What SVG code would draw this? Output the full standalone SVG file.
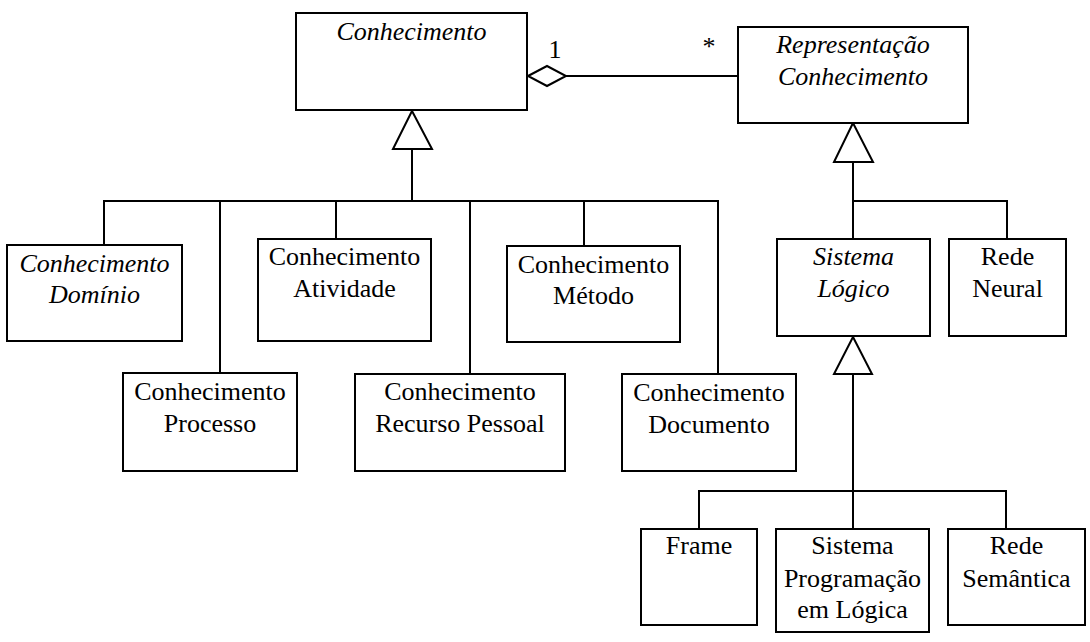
<svg xmlns="http://www.w3.org/2000/svg" width="1090" height="642" viewBox="0 0 1090 642">
<style>
.box{fill:#fff;stroke:#000;stroke-width:2}
.ln{fill:none;stroke:#000;stroke-width:2}
.tri{fill:#fff;stroke:#000;stroke-width:2;stroke-linejoin:miter}
text{font-family:Liberation Serif,Tinos,Times New Roman,Times,Nimbus Roman,DejaVu Serif,serif;font-size:26px;fill:#000;text-anchor:middle}
.it{font-style:italic}
</style>
<rect width="1090" height="642" fill="#fff"/>
<g id="connectors">
  <polyline class="ln" points="412,149 412,201"/>
  <polyline class="ln" points="104,245 104,201 718,201 718,374"/>
  <line class="ln" x1="220" y1="201" x2="220" y2="373"/>
  <line class="ln" x1="336" y1="201" x2="336" y2="239"/>
  <line class="ln" x1="470" y1="201" x2="470" y2="374"/>
  <line class="ln" x1="584" y1="201" x2="584" y2="246"/>
  <polygon class="tri" points="412,111 393,149 432,149"/>
  <polyline class="ln" points="853,162 853,239"/>
  <polyline class="ln" points="853,201 1007,201 1007,239"/>
  <polygon class="tri" points="853,123 834,162 873,162"/>
  <polyline class="ln" points="853,374 853,529"/>
  <polyline class="ln" points="699,529 699,491 1006,491 1006,529"/>
  <polygon class="tri" points="853,337 834,374 872,374"/>
  <line class="ln" x1="566" y1="76" x2="738" y2="76"/>
  <polygon class="tri" points="528,76 547,66 566,76 547,86"/>
  <text x="555" y="58">1</text>
  <text x="709" y="55">*</text>
</g>
<g id="conhecimento">
  <rect class="box" x="296" y="13" width="231" height="97"/>
  <text class="it" x="411.5" y="40">Conhecimento</text>
</g>
<g id="representacao">
  <rect class="box" x="738" y="27" width="230" height="96"/>
  <text class="it" x="853" y="53">Representação</text>
  <text class="it" x="853" y="85">Conhecimento</text>
</g>
<g id="dominio">
  <rect class="box" x="7" y="245" width="175" height="96"/>
  <text class="it" x="94.5" y="272">Conhecimento</text>
  <text class="it" x="94.5" y="303">Domínio</text>
</g>
<g id="atividade">
  <rect class="box" x="258" y="239" width="173" height="102"/>
  <text x="344.5" y="265">Conhecimento</text>
  <text x="344.5" y="297">Atividade</text>
</g>
<g id="metodo">
  <rect class="box" x="507" y="246" width="173" height="96"/>
  <text x="593.5" y="273">Conhecimento</text>
  <text x="593.5" y="304">Método</text>
</g>
<g id="processo">
  <rect class="box" x="123" y="373" width="174" height="98"/>
  <text x="210" y="400">Conhecimento</text>
  <text x="210" y="432">Processo</text>
</g>
<g id="recurso">
  <rect class="box" x="355" y="374" width="210" height="97"/>
  <text x="460" y="400">Conhecimento</text>
  <text x="460" y="432">Recurso Pessoal</text>
</g>
<g id="documento">
  <rect class="box" x="622" y="374" width="174" height="97"/>
  <text x="709" y="401">Conhecimento</text>
  <text x="709" y="433">Documento</text>
</g>
<g id="sistemaLogico">
  <rect class="box" x="777" y="239" width="153" height="97"/>
  <text class="it" x="853.5" y="265">Sistema</text>
  <text class="it" x="853.5" y="297">Lógico</text>
</g>
<g id="redeNeural">
  <rect class="box" x="949" y="239" width="117" height="97"/>
  <text x="1007.5" y="265">Rede</text>
  <text x="1007.5" y="297">Neural</text>
</g>
<g id="frame">
  <rect class="box" x="641" y="529" width="116" height="96"/>
  <text x="699" y="554">Frame</text>
</g>
<g id="sistemaProgramacao">
  <rect class="box" x="776" y="529" width="153" height="103"/>
  <text x="852.5" y="554">Sistema</text>
  <text x="852.5" y="587">Programação</text>
  <text x="852.5" y="618">em Lógica</text>
</g>
<g id="redeSemantica">
  <rect class="box" x="948" y="529" width="137" height="96"/>
  <text x="1016.5" y="554">Rede</text>
  <text x="1016.5" y="587">Semântica</text>
</g>
</svg>
